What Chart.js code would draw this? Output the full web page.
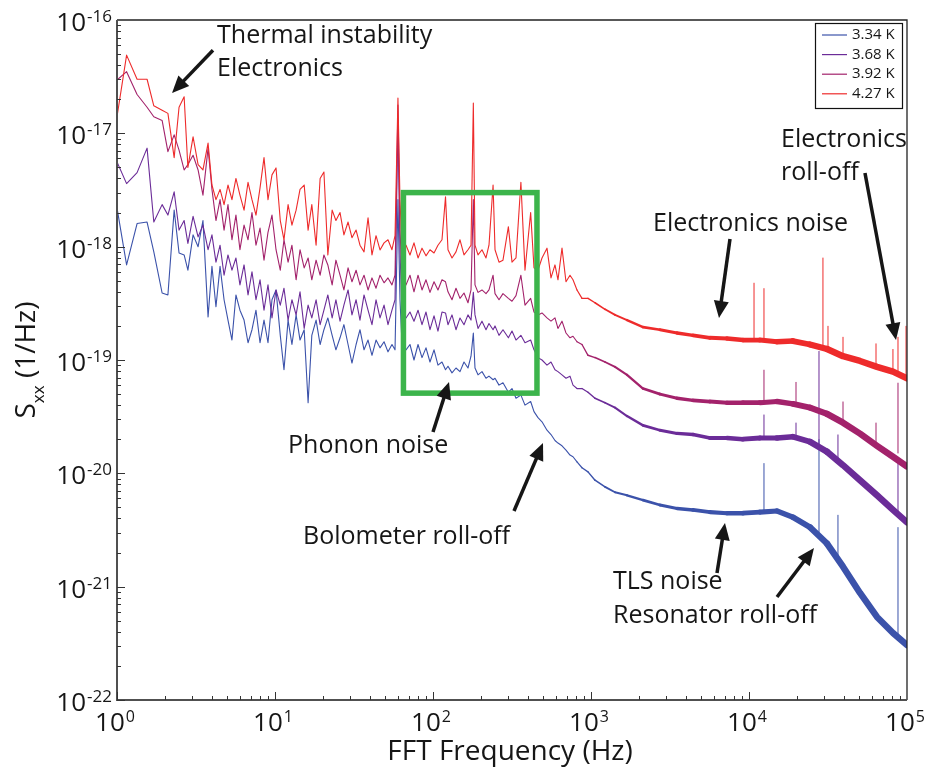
<!DOCTYPE html>
<html lang="en">
<head>
    <meta charset="UTF-8">
    <title>Noise spectra vs temperature</title>
    <script src="https://cdn.jsdelivr.net/npm/chart.js"></script>
    <style>
        body { margin: 0; background: white; }
        #wrap { width: 928px; height: 769px; position: relative; }
    </style>
</head>
<body>
<div id="wrap"><canvas id="noiseChart"></canvas></div>
<script>
    // FFT frequency bins (Hz), shared by the four spectra
    const freqHz = [
        1.00, 1.15, 1.34, 1.55, 1.71, 1.93, 2.10, 2.30, 2.47, 2.66,
        2.81, 3.03, 3.26, 3.50, 3.77, 3.99, 4.23, 4.49, 4.76, 5.04,
        5.34, 5.66, 6.00, 6.37, 6.75, 7.15, 7.58, 8.04, 8.52, 9.03,
        9.57, 10.15, 10.8, 11.4, 12.1, 12.8, 13.6, 14.4, 15.3, 16.2,
        17.1, 18.2, 19.3, 20.4, 21.6, 23.0, 24.3, 25.8, 27.3, 29.0,
        30.7, 32.6, 34.5, 36.6, 38.8, 41.1, 43.6, 46.2, 49.0, 51.9,
        55.0, 57.5, 60.0, 61.8, 63.7,
        67.5, 71.5, 75.8, 80.4, 85.2, 90.3, 95.7, 101.5, 107.5, 114,
        120, 124.4, 131.9, 139.8, 148.2, 157.1, 166.5, 174, 180, 184.4,
        192.7, 204.2, 216.5, 226.1, 240, 246.9, 261.7, 277.3, 300, 316.2,
        335.2, 360, 382.2, 415, 435.8, 461.9, 489.6, 526.6, 558.2, 591.6,
        618, 655.3, 694.6, 736.3, 769.2, 815.4, 877, 957.2, 1060,
        1227, 1419, 1690, 2134, 2734, 3503, 4422, 5664, 7257, 9163,
        11740, 15040, 18990, 24330, 31170, 39350, 50420, 64570, 81540, 100000
    ];

    // S_xx (1/Hz) for each bath temperature
    const s427 = [
        1.4e-17, 4.9e-17, 3.0e-17, 3.0e-17, 1.75e-17, 1.6e-17, 1.5e-17, 6.1e-18, 1.7e-17, 2.1e-17,
        5.0e-18, 9.3e-18, 5.3e-18, 4.75e-18, 8.2e-18, 3.5e-18, 2.6e-18, 3.2e-18, 2.35e-18, 3.5e-18,
        2.6e-18, 4.0e-18, 2.85e-18, 2.1e-18, 3.7e-18, 2.6e-18, 1.9e-18, 3.3e-18, 6.1e-18, 2.6e-18,
        4.3e-18, 4.95e-18, 1.7e-18, 1.15e-18, 2.35e-18, 1.55e-18, 2.1e-18, 3.2e-18, 3.5e-18, 1.4e-18,
        2.35e-18, 1.03e-18, 4.0e-18, 4.55e-18, 8.45e-19, 2.1e-18, 1.7e-18, 2.0e-18, 1.27e-18, 1.65e-18,
        1.2e-18, 1.4e-18, 1.03e-18, 9.0e-19, 1.8e-18, 8.45e-19, 1.25e-18, 9.35e-19, 1.08e-18, 1.15e-18,
        9.4e-19, 1.25e-18, 2.05e-17, 2.6e-18, 9.4e-19,
        1.03e-18, 8.45e-19, 1.08e-18, 7.95e-19, 9.7e-19, 8.3e-19, 9.4e-19, 8.8e-19, 1.03e-18, 1.15e-18,
        2.75e-18, 9.4e-19, 7.95e-19, 9.0e-19, 1.15e-18, 8.45e-19, 9.4e-19, 1.03e-18, 1.85e-17, 1.03e-18,
        8.45e-19, 9.4e-19, 7.95e-19, 1.03e-18, 3.5e-18, 9.4e-19, 7.3e-19, 7.6e-19, 1.5e-18, 7.3e-19,
        7.95e-19, 3.7e-18, 6.2e-19, 2.0e-18, 6.5e-19, 6.2e-19, 7.95e-19, 9.7e-19, 5.3e-19, 6.9e-19,
        5.1e-19, 9.7e-19, 4.9e-19, 5.6e-19, 5.1e-19, 4.15e-19, 3.5e-19, 3.5e-19, 3.2e-19,
        2.8e-19, 2.5e-19, 2.25e-19, 1.95e-19, 1.85e-19, 1.73e-19, 1.65e-19, 1.57e-19, 1.55e-19, 1.5e-19,
        1.5e-19, 1.45e-19, 1.47e-19, 1.37e-19, 1.25e-19, 1.08e-19, 9.8e-20, 8.7e-20, 7.9e-20, 6.9e-20
    ];
    const s392 = [
        2.95e-17, 3.5e-17, 2.2e-17, 1.7e-17, 1.4e-17, 1.3e-17, 6.9e-18, 9.7e-18, 7.1e-18, 4.75e-18,
        5.3e-18, 6.4e-18, 4.75e-18, 2.85e-18, 7.4e-18, 3.2e-18, 1.7e-18, 2.6e-18, 1.4e-18, 2.35e-18,
        1.15e-18, 1.9e-18, 9.4e-19, 1.55e-18, 1.15e-18, 2.0e-18, 1.03e-18, 1.46e-18, 7.6e-19, 1.34e-18,
        1.9e-18, 9.4e-19, 6.2e-19, 1.15e-18, 7.3e-19, 1.03e-18, 5.1e-19, 9.4e-19, 6.5e-19, 7.95e-19,
        5.1e-19, 7.6e-19, 5.6e-19, 8.45e-19, 6.9e-19, 4.6e-19, 7.6e-19, 5.6e-19, 4.15e-19, 6.5e-19,
        4.9e-19, 6.2e-19, 4.6e-19, 5.6e-19, 4.15e-19, 5.3e-19, 4.3e-19, 5.6e-19, 4.8e-19, 5.3e-19,
        4.6e-19, 5.6e-19, 1.78e-17, 1.4e-18, 5.6e-19,
        4.6e-19, 5.6e-19, 4.0e-19, 5.6e-19, 4.15e-19, 5.1e-19, 3.95e-19, 4.9e-19, 4.15e-19, 5.1e-19,
        4.9e-19, 4.0e-19, 3.4e-19, 4.3e-19, 3.5e-19, 3.9e-19, 3.2e-19, 4.15e-19, 2.6e-18, 4.6e-19,
        3.95e-19, 4.15e-19, 3.85e-19, 4.15e-19, 5.6e-19, 3.85e-19, 3.4e-19, 3.85e-19, 3.5e-19, 3.3e-19,
        3.7e-19, 5.6e-19, 3.05e-19, 3.5e-19, 2.65e-19, 2.5e-19, 2.6e-19, 2.35e-19, 2.2e-19, 2.35e-19,
        1.9e-19, 2.2e-19, 1.73e-19, 1.57e-19, 1.62e-19, 1.45e-19, 1.37e-19, 1.1e-19, 1.05e-19,
        9.6e-20, 8.7e-20, 7.4e-20, 5.6e-20, 5.0e-20, 4.6e-20, 4.4e-20, 4.3e-20, 4.2e-20, 4.2e-20,
        4.2e-20, 4.3e-20, 4.1e-20, 3.8e-20, 3.35e-20, 2.8e-20, 2.24e-20, 1.75e-20, 1.4e-20, 1.15e-20
    ];
    const s368 = [
        5.6e-18, 3.6e-18, 4.5e-18, 7.4e-18, 1.65e-18, 2.35e-18, 1.9e-18, 3.05e-18, 1.4e-18, 1.7e-18,
        1.07e-18, 1.85e-18, 1.22e-18, 1.55e-18, 9.4e-19, 1.27e-18, 7.3e-19, 1.03e-18, 5.6e-19, 8.45e-19,
        6.2e-19, 7.95e-19, 4.6e-19, 6.9e-19, 3.75e-19, 6.0e-19, 3.4e-19, 5.1e-19, 2.75e-19, 4.6e-19,
        2.35e-19, 4.15e-19, 3.05e-19, 4.3e-19, 2.25e-19, 3.4e-19, 2.5e-19, 4.0e-19, 1.9e-19, 3.05e-19,
        2.35e-19, 3.4e-19, 2.05e-19, 2.75e-19, 3.75e-19, 2.35e-19, 3.4e-19, 2.2e-19, 3.05e-19, 4.15e-19,
        2.5e-19, 3.4e-19, 2.25e-19, 3.75e-19, 2.75e-19, 2.05e-19, 3.4e-19, 2.35e-19, 3.05e-19, 2.05e-19,
        2.75e-19, 3.4e-19, 1.3e-17, 9.4e-19, 2.5e-19,
        2.35e-19, 2.65e-19, 2.2e-19, 2.75e-19, 2.05e-19, 2.65e-19, 1.85e-19, 2.45e-19, 1.8e-19, 2.65e-19,
        2.6e-19, 2.05e-19, 2.5e-19, 1.85e-19, 2.35e-19, 2.05e-19, 2.5e-19, 2.25e-19, 3.95e-19, 2.5e-19,
        1.9e-19, 2.2e-19, 1.85e-19, 2.1e-19, 1.85e-19, 2.0e-19, 1.65e-19, 1.85e-19, 1.57e-19, 1.8e-19,
        1.5e-19, 1.65e-19, 1.42e-19, 1.5e-19, 1.23e-19, 1.05e-19, 1.0e-19, 9.0e-20, 9.6e-20, 8.2e-20,
        7.9e-20, 7.4e-20, 6.9e-20, 7.2e-20, 6.0e-20, 5.6e-20, 5.6e-20, 5.2e-20, 4.6e-20,
        4.2e-20, 3.8e-20, 3.2e-20, 2.65e-20, 2.4e-20, 2.25e-20, 2.2e-20, 2.05e-20, 2.05e-20, 2.0e-20,
        2.05e-20, 2.05e-20, 2.1e-20, 1.9e-20, 1.55e-20, 1.18e-20, 8.7e-21, 6.4e-21, 4.75e-21, 3.7e-21
    ];
    const s334 = [
        2.2e-18, 6.9e-19, 1.6e-18, 1.65e-18, 9.0e-19, 3.9e-19, 3.75e-19, 2.1e-18, 8.8e-19, 8.45e-19,
        6.2e-19, 1.27e-18, 1.0e-18, 1.7e-18, 2.4e-19, 6.7e-19, 2.95e-19, 6.7e-19, 3.4e-19, 2.25e-19,
        1.5e-19, 3.75e-19, 2.75e-19, 2.25e-19, 1.42e-19, 1.85e-19, 2.75e-19, 1.42e-19, 2.25e-19, 1.42e-19,
        3.4e-19, 4.15e-19, 1.65e-19, 8.2e-20, 2.25e-19, 1.37e-19, 2.5e-19, 1.5e-19, 1.85e-19, 4.2e-20,
        1.65e-19, 2.25e-19, 1.37e-19, 1.85e-19, 2.35e-19, 1.65e-19, 1.23e-19, 1.57e-19, 2.05e-19, 1.37e-19,
        9.4e-20, 1.37e-19, 1.85e-19, 1.23e-19, 1.5e-19, 1.1e-19, 1.5e-19, 1.28e-19, 1.45e-19, 1.18e-19,
        1.37e-19, 1.23e-19, 2.6e-18, 3.4e-19, 1.37e-19,
        1.23e-19, 1.37e-19, 1.0e-19, 1.37e-19, 1.05e-19, 1.28e-19, 9.6e-20, 1.23e-19, 9.0e-20, 9.6e-20,
        8.2e-20, 8.8e-20, 7.7e-20, 8.5e-20, 7.9e-20, 9.6e-20, 8.5e-20, 1.08e-19, 1.73e-19, 8.5e-20,
        7.4e-20, 7.9e-20, 6.9e-20, 7.2e-20, 6.7e-20, 6.9e-20, 6.0e-20, 6.3e-20, 5.2e-20, 5.6e-20,
        4.6e-20, 4.9e-20, 4.0e-20, 4.3e-20, 3.5e-20, 3.1e-20, 2.85e-20, 2.4e-20, 2.2e-20, 1.95e-20,
        1.85e-20, 1.75e-20, 1.6e-20, 1.45e-20, 1.4e-20, 1.26e-20, 1.12e-20, 1.03e-20, 8.7e-21,
        7.6e-21, 6.8e-21, 6.4e-21, 5.8e-21, 5.25e-21, 4.9e-21, 4.75e-21, 4.55e-21, 4.45e-21, 4.45e-21,
        4.55e-21, 4.65e-21, 4.1e-21, 3.35e-21, 2.4e-21, 1.5e-21, 8.8e-22, 5.4e-22, 3.9e-22, 3.05e-22
    ];

    // narrow pickup lines: [frequency Hz, floor, peak]
    const spikes427 = [[10760, 1.5e-19, 4.8e-19], [12440, 1.5e-19, 4.3e-19], [29380, 1.3e-19, 8.0e-19],
        [31620, 1.25e-19, 2.0e-19], [39350, 1.1e-19, 1.6e-19], [63650, 9.0e-20, 1.4e-19],
        [81470, 8.0e-20, 1.25e-19], [87700, 7.5e-20, 1.6e-19], [98600, 6.9e-20, 2.0e-19]];
    const spikes392 = [[12440, 4.2e-20, 8.2e-20], [19840, 4.1e-20, 6.4e-20], [39350, 2.8e-20, 4.3e-20],
        [63650, 1.75e-20, 2.8e-20], [87700, 1.5e-20, 6.3e-20]];
    const spikes368 = [[12440, 2.05e-20, 3.3e-20], [19840, 2.1e-20, 2.8e-20], [27730, 1.7e-20, 1.2e-19],
        [36560, 1.25e-20, 2.2e-20], [87700, 4.4e-21, 1.23e-20]];
    const spikes334 = [[12440, 4.55e-21, 1.23e-20], [27730, 3.0e-21, 2.0e-20], [36560, 1.8e-21, 4.3e-21],
        [87700, 3.6e-22, 3.35e-21]];

    const seriesLabels = ['3.34 K', '3.68 K', '3.92 K', '4.27 K'];
    const seriesColors = ['#3b52aa', '#6b2c98', '#a3226b', '#ee2b2b'];

    // annotations, placed in data coordinates
    const noteText = ['Thermal instability', 'Electronics', 'Electronics', 'roll-off', 'Electronics noise',
        'Phonon noise', 'Bolometer roll-off', 'TLS noise', 'Resonator roll-off'];
    const noteHz = [4.3, 4.3, 15940, 15940, 2468, 12.09, 15.04, 1378, 1378];
    const noteS = [6.27e-17, 3.2e-17, 7.57e-18, 3.88e-18, 1.37e-18, 1.51e-20, 2.38e-21, 9.54e-22, 4.78e-22];
    const arrowFrom = [[4.05, 5.4e-17], [54200, 4.47e-18], [7581, 1.17e-18], [100, 2.32e-20],
        [325.6, 4.65e-21], [6273, 1.32e-21], [15040, 8.1e-22]];
    const arrowTo = [[2.23, 2.27e-17], [85200, 1.5e-19], [6457, 2.35e-19], [126.3, 6.4e-20],
        [496.9, 1.85e-20], [7047, 3.65e-21], [25780, 2.19e-21]];
    const phononBoxHz = [65, 455];
    const phononBoxS = [5.1e-20, 3.0e-18];

    const FONT = '"Open Sans", "Liberation Sans", sans-serif';
    const INK = '#161616';

    // the dense spectra read as a thicker band at high frequency
    function bandWidth(hz) {
        const l = Math.log10(hz);
        if (l < 2.9) return 1.1;
        return Math.min(6.5, 1.1 + (l - 2.9) * 3.3);
    }

    function spectrum(values) {
        return freqHz.map((f, i) => ({ x: f, y: values[i] }));
    }

    function spikeData(list) {
        const pts = [];
        list.forEach(s => {
            pts.push({ x: s[0], y: s[1] }, { x: s[0], y: s[2] }, { x: s[0], y: null });
        });
        return pts;
    }

    const allValues = [s334, s368, s392, s427];
    const allSpikes = [spikes334, spikes368, spikes392, spikes427];

    const datasets = [];
    // hottest spectrum drawn on top (dataset 0 is painted last)
    for (let i = 3; i >= 0; i--) {
        datasets.push({
            label: seriesLabels[i],
            data: spectrum(allValues[i]),
            borderColor: seriesColors[i],
            borderWidth: 1.1,
            borderCapStyle: 'round',
            borderJoinStyle: 'round',
            pointRadius: 0,
            tension: 0,
            segment: { borderWidth: ctx => bandWidth(Math.sqrt(ctx.p0.parsed.x * ctx.p1.parsed.x)) }
        });
    }
    for (let i = 3; i >= 0; i--) {
        datasets.push({
            label: seriesLabels[i] + ' lines',
            data: spikeData(allSpikes[i]),
            borderColor: seriesColors[i],
            borderWidth: 1,
            pointRadius: 0,
            spanGaps: false
        });
    }

    function powerLabel(ctx, exp, x, baseY, supY, align, bigSize, supSize) {
        ctx.font = bigSize + 'px ' + FONT;
        const wBase = ctx.measureText('10').width;
        ctx.font = supSize + 'px ' + FONT;
        const wExp = ctx.measureText(exp).width;
        const left = align === 'right' ? x - wBase - wExp - 1 : x - (wBase + wExp + 1) / 2;
        ctx.textAlign = 'left';
        ctx.textBaseline = 'alphabetic';
        ctx.font = bigSize + 'px ' + FONT;
        ctx.fillText('10', left, baseY);
        ctx.font = supSize + 'px ' + FONT;
        ctx.fillText(exp, left + wBase + 1, supY);
    }

    function drawArrow(ctx, x1, y1, x2, y2) {
        const ang = Math.atan2(y2 - y1, x2 - x1);
        const head = 17, half = 7.5;
        const bx = x2 - head * Math.cos(ang), by = y2 - head * Math.sin(ang);
        ctx.beginPath();
        ctx.moveTo(x1, y1);
        ctx.lineTo(bx + 2 * Math.cos(ang), by + 2 * Math.sin(ang));
        ctx.lineWidth = 3.5;
        ctx.strokeStyle = INK;
        ctx.stroke();
        ctx.beginPath();
        ctx.moveTo(x2, y2);
        ctx.lineTo(bx + half * Math.sin(ang), by - half * Math.cos(ang));
        ctx.lineTo(bx - half * Math.sin(ang), by + half * Math.cos(ang));
        ctx.closePath();
        ctx.fillStyle = INK;
        ctx.fill();
    }

    const decor = {
        id: 'decor',
        afterDatasetsDraw(chart) {
            const ctx = chart.ctx;
            const a = chart.chartArea;
            const xs = chart.scales.x, ys = chart.scales.y;
            ctx.save();

            // phonon noise box
            const bx1 = xs.getPixelForValue(phononBoxHz[0]), bx2 = xs.getPixelForValue(phononBoxHz[1]);
            const by1 = ys.getPixelForValue(phononBoxS[1]), by2 = ys.getPixelForValue(phononBoxS[0]);
            ctx.lineWidth = 5.5;
            ctx.strokeStyle = '#3cb44b';
            ctx.strokeRect(bx1, by1, bx2 - bx1, by2 - by1);

            // frame: thin top/right, heavier left/bottom
            ctx.lineWidth = 1.3;
            ctx.strokeStyle = '#222';
            ctx.beginPath();
            ctx.moveTo(a.left, a.top); ctx.lineTo(a.right, a.top); ctx.lineTo(a.right, a.bottom);
            ctx.stroke();
            ctx.lineWidth = 2;
            ctx.strokeStyle = '#505050';
            ctx.beginPath();
            ctx.moveTo(a.left, a.top); ctx.lineTo(a.left, a.bottom); ctx.lineTo(a.right, a.bottom);
            ctx.stroke();

            // inward ticks
            ctx.lineWidth = 1;
            ctx.strokeStyle = '#333';
            ctx.beginPath();
            for (let n = 0; n <= 4; n++) {
                for (let m = 1; m <= 9; m++) {
                    const px = Math.round(xs.getPixelForValue(m * Math.pow(10, n))) + 0.5;
                    const len = m === 1 ? 8 : 4;
                    ctx.moveTo(px, a.bottom); ctx.lineTo(px, a.bottom - len);
                }
            }
            for (let n = -22; n <= -17; n++) {
                for (let m = 1; m <= 9; m++) {
                    const py = Math.round(ys.getPixelForValue(m * Math.pow(10, n))) + 0.5;
                    const len = m === 1 ? 8 : 4;
                    ctx.moveTo(a.left, py); ctx.lineTo(a.left + len, py);
                }
            }
            ctx.stroke();

            // tick labels
            ctx.fillStyle = INK;
            for (let e = -22; e <= -16; e++) {
                const py = ys.getPixelForValue(Math.pow(10, e));
                powerLabel(ctx, String(e), a.left - 5, py + 11, py + 2, 'right', 26, 17);
            }
            for (let e = 0; e <= 5; e++) {
                const px = xs.getPixelForValue(Math.pow(10, e));
                powerLabel(ctx, String(e), px - 2, a.bottom + 31, a.bottom + 22, 'center', 26, 16);
            }

            // axis titles
            ctx.font = '28px ' + FONT;
            ctx.textAlign = 'center';
            ctx.textBaseline = 'alphabetic';
            ctx.fillText('FFT Frequency (Hz)', (a.left + a.right) / 2 - 2, a.bottom + 60);

            ctx.save();
            ctx.translate(35, (a.top + a.bottom) / 2);
            ctx.rotate(-Math.PI / 2);
            ctx.font = '28px ' + FONT;
            const wS = ctx.measureText('S').width;
            const wRest = ctx.measureText(' (1/Hz)').width;
            ctx.font = '17px ' + FONT;
            const wSub = ctx.measureText('xx').width;
            let tx = -(wS + wSub + wRest) / 2;
            ctx.textAlign = 'left';
            ctx.font = '28px ' + FONT;
            ctx.fillText('S', tx, 0);
            ctx.font = '17px ' + FONT;
            ctx.fillText('xx', tx + wS, 9);
            ctx.font = '28px ' + FONT;
            ctx.fillText(' (1/Hz)', tx + wS + wSub, 0);
            ctx.restore();

            // annotations
            ctx.font = '25px ' + FONT;
            ctx.textAlign = 'left';
            ctx.textBaseline = 'alphabetic';
            ctx.fillStyle = INK;
            noteText.forEach((t, i) => {
                ctx.fillText(t, xs.getPixelForValue(noteHz[i]), ys.getPixelForValue(noteS[i]));
            });
            arrowFrom.forEach((p, i) => {
                const q = arrowTo[i];
                drawArrow(ctx, xs.getPixelForValue(p[0]), ys.getPixelForValue(p[1]),
                    xs.getPixelForValue(q[0]), ys.getPixelForValue(q[1]));
            });

            // legend box, top right inside the plot
            const lw = 87, lh = 85;
            const lx = a.right - 5 - lw, ly = a.top + 3;
            ctx.fillStyle = 'white';
            ctx.fillRect(lx, ly, lw, lh);
            ctx.lineWidth = 1.2;
            ctx.strokeStyle = '#111';
            ctx.strokeRect(lx + 0.5, ly + 0.5, lw, lh);
            ctx.font = '15px ' + FONT;
            ctx.textBaseline = 'middle';
            seriesLabels.forEach((lab, i) => {
                const ry = ly + 12 + i * 19.6;
                ctx.strokeStyle = seriesColors[i];
                ctx.lineWidth = 1.2;
                ctx.beginPath();
                ctx.moveTo(lx + 7, ry); ctx.lineTo(lx + 32, ry);
                ctx.stroke();
                ctx.fillStyle = INK;
                ctx.fillText(lab, lx + 37, ry);
            });

            ctx.restore();
        }
    };

    new Chart(document.getElementById('noiseChart'), {
        type: 'line',
        data: { datasets: datasets },
        options: {
            responsive: true,
            maintainAspectRatio: false,
            animation: false,
            events: [],
            layout: { padding: { left: 117, right: 21, top: 20, bottom: 69 } },
            plugins: { legend: { display: false }, tooltip: { enabled: false } },
            scales: {
                x: { type: 'logarithmic', min: 1, max: 100000, display: false },
                y: { type: 'logarithmic', min: 1e-22, max: 1e-16, display: false }
            }
        },
        plugins: [decor]
    });
</script>
</body>
</html>
